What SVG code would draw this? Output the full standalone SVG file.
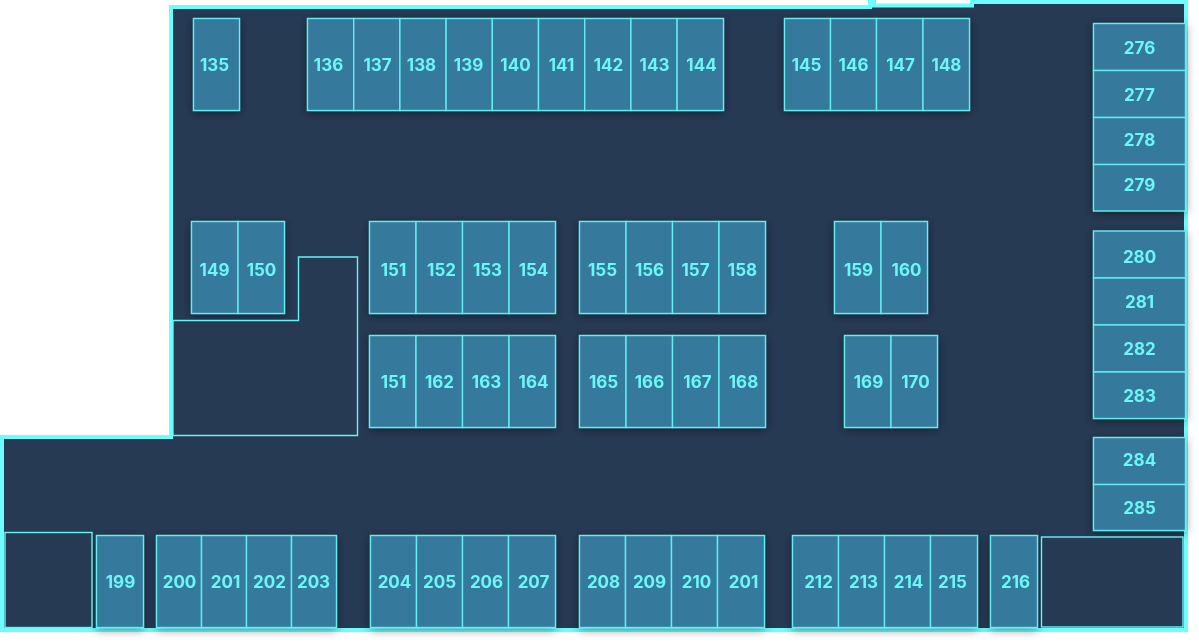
<svg xmlns="http://www.w3.org/2000/svg" width="1199" height="643" viewBox="0 0 1199 643">
<defs><filter id="sh" x="-30%" y="-30%" width="160%" height="160%"><feDropShadow dx="0" dy="2" stdDeviation="5" flood-color="#000" flood-opacity="0.42"/></filter></defs>
<style>
.r{fill:#347a9c;stroke:#60eef0;stroke-width:1.4}
.b{filter:url(#sh)}
.room{fill:#273a54;stroke:#66f2f2;stroke-width:1.4}
text{font-family:Inter,"Liberation Sans",sans-serif;font-size:17px;font-weight:700;fill:#6cf6f6;text-anchor:middle}
</style>
<rect width="1199" height="643" fill="#fff"/>
<path id="floor" d="M171 7H870V2H874V5.500H972V2H1186V630H2V437H171Z" fill="#273a54" stroke="#6efdfd" stroke-width="4"/>
<g id="connectors"/>
<g class="b">
<g id="n135"><rect class="r" x="193.500" y="18.500" width="46" height="92"/><text x="214.500" y="70.500">135</text></g>
</g>
<g class="b">
<g id="n136"><rect class="r" x="307.500" y="18.500" width="46.200" height="92"/><text x="328.500" y="70.500">136</text></g>
<g id="n137"><rect class="r" x="353.700" y="18.500" width="46.200" height="92"/><text x="377.500" y="70.500">137</text></g>
<g id="n138"><rect class="r" x="399.900" y="18.500" width="46.200" height="92"/><text x="421.500" y="70.500">138</text></g>
<g id="n139"><rect class="r" x="446.100" y="18.500" width="46.200" height="92"/><text x="468.500" y="70.500">139</text></g>
<g id="n140"><rect class="r" x="492.300" y="18.500" width="46.200" height="92"/><text x="515.500" y="70.500">140</text></g>
<g id="n141"><rect class="r" x="538.500" y="18.500" width="46.200" height="92"/><text x="561.500" y="70.500">141</text></g>
<g id="n142"><rect class="r" x="584.700" y="18.500" width="46.200" height="92"/><text x="608.500" y="70.500">142</text></g>
<g id="n143"><rect class="r" x="630.900" y="18.500" width="46.200" height="92"/><text x="654.500" y="70.500">143</text></g>
<g id="n144"><rect class="r" x="677.100" y="18.500" width="46.400" height="92"/><text x="701.500" y="70.500">144</text></g>
</g>
<g class="b">
<g id="n145"><rect class="r" x="784.500" y="18.500" width="46" height="92"/><text x="806.500" y="70.500">145</text></g>
<g id="n146"><rect class="r" x="830.500" y="18.500" width="46" height="92"/><text x="853.500" y="70.500">146</text></g>
<g id="n147"><rect class="r" x="876.500" y="18.500" width="46.500" height="92"/><text x="900.500" y="70.500">147</text></g>
<g id="n148"><rect class="r" x="923" y="18.500" width="46.500" height="92"/><text x="946.500" y="70.500">148</text></g>
</g>
<g class="b">
<g id="n276"><rect class="r" x="1093.500" y="23.500" width="92" height="47"/><text x="1139.500" y="53.500">276</text></g>
<g id="n277"><rect class="r" x="1093.500" y="70.500" width="92" height="47"/><text x="1139.500" y="100.500">277</text></g>
<g id="n278"><rect class="r" x="1093.500" y="117.500" width="92" height="47"/><text x="1139.500" y="145.500">278</text></g>
<g id="n279"><rect class="r" x="1093.500" y="164.500" width="92" height="46.500"/><text x="1139.500" y="190.500">279</text></g>
</g>
<g class="b">
<g id="n280"><rect class="r" x="1093.500" y="231" width="92" height="47"/><text x="1139.500" y="262.500">280</text></g>
<g id="n281"><rect class="r" x="1093.500" y="278" width="92" height="47"/><text x="1139.500" y="307.500">281</text></g>
<g id="n282"><rect class="r" x="1093.500" y="325" width="92" height="47"/><text x="1139.500" y="354.500">282</text></g>
<g id="n283"><rect class="r" x="1093.500" y="372" width="92" height="46.500"/><text x="1139.500" y="401.500">283</text></g>
</g>
<g class="b">
<g id="n284"><rect class="r" x="1093.500" y="437.500" width="92" height="47"/><text x="1139.500" y="465.500">284</text></g>
<g id="n285"><rect class="r" x="1093.500" y="484.500" width="92" height="46"/><text x="1139.500" y="513.500">285</text></g>
</g>
<g class="b">
<g id="n149"><rect class="r" x="191.500" y="221.500" width="46.500" height="92"/><text x="214.500" y="275.500">149</text></g>
<g id="n150"><rect class="r" x="238" y="221.500" width="46.500" height="92"/><text x="261.500" y="275.500">150</text></g>
</g>
<g class="b">
<g id="n151a"><rect class="r" x="369.500" y="221.500" width="46.500" height="92"/><text x="393.500" y="275.500">151</text></g>
<g id="n152"><rect class="r" x="416" y="221.500" width="46.500" height="92"/><text x="441.500" y="275.500">152</text></g>
<g id="n153"><rect class="r" x="462.500" y="221.500" width="46.500" height="92"/><text x="487.500" y="275.500">153</text></g>
<g id="n154"><rect class="r" x="509" y="221.500" width="46.500" height="92"/><text x="533.500" y="275.500">154</text></g>
</g>
<g class="b">
<g id="n155"><rect class="r" x="579.500" y="221.500" width="46.500" height="92"/><text x="602.500" y="275.500">155</text></g>
<g id="n156"><rect class="r" x="626" y="221.500" width="46.500" height="92"/><text x="649.500" y="275.500">156</text></g>
<g id="n157"><rect class="r" x="672.500" y="221.500" width="46.500" height="92"/><text x="695.500" y="275.500">157</text></g>
<g id="n158"><rect class="r" x="719" y="221.500" width="46.500" height="92"/><text x="742.500" y="275.500">158</text></g>
</g>
<g class="b">
<g id="n159"><rect class="r" x="834.500" y="221.500" width="46.500" height="92"/><text x="858.500" y="275.500">159</text></g>
<g id="n160"><rect class="r" x="881" y="221.500" width="46.500" height="92"/><text x="906.500" y="275.500">160</text></g>
</g>
<g class="b">
<g id="n151b"><rect class="r" x="369.500" y="335.500" width="46.500" height="92"/><text x="393.500" y="387.500">151</text></g>
<g id="n162"><rect class="r" x="416" y="335.500" width="46.500" height="92"/><text x="439.500" y="387.500">162</text></g>
<g id="n163"><rect class="r" x="462.500" y="335.500" width="46.500" height="92"/><text x="486.500" y="387.500">163</text></g>
<g id="n164"><rect class="r" x="509" y="335.500" width="46.500" height="92"/><text x="533.500" y="387.500">164</text></g>
</g>
<g class="b">
<g id="n165"><rect class="r" x="579.500" y="335.500" width="46.500" height="92"/><text x="603.500" y="387.500">165</text></g>
<g id="n166"><rect class="r" x="626" y="335.500" width="46.500" height="92"/><text x="649.500" y="387.500">166</text></g>
<g id="n167"><rect class="r" x="672.500" y="335.500" width="46.500" height="92"/><text x="697.500" y="387.500">167</text></g>
<g id="n168"><rect class="r" x="719" y="335.500" width="46.500" height="92"/><text x="743.500" y="387.500">168</text></g>
</g>
<g class="b">
<g id="n169"><rect class="r" x="844.500" y="335.500" width="46.500" height="92"/><text x="868.500" y="387.500">169</text></g>
<g id="n170"><rect class="r" x="891" y="335.500" width="46.500" height="92"/><text x="915.500" y="387.500">170</text></g>
</g>
<g class="b">
<g id="n199"><rect class="r" x="96.500" y="535.500" width="47" height="92"/><text x="120.500" y="587.500">199</text></g>
</g>
<g class="b">
<g id="n200"><rect class="r" x="156.500" y="535.500" width="45" height="92"/><text x="179.500" y="587.500">200</text></g>
<g id="n201a"><rect class="r" x="201.500" y="535.500" width="45" height="92"/><text x="225.500" y="587.500">201</text></g>
<g id="n202"><rect class="r" x="246.500" y="535.500" width="45" height="92"/><text x="269.500" y="587.500">202</text></g>
<g id="n203"><rect class="r" x="291.500" y="535.500" width="45" height="92"/><text x="313.500" y="587.500">203</text></g>
</g>
<g class="b">
<g id="n204"><rect class="r" x="370.500" y="535.500" width="46" height="92"/><text x="394.500" y="587.500">204</text></g>
<g id="n205"><rect class="r" x="416.500" y="535.500" width="46" height="92"/><text x="439.500" y="587.500">205</text></g>
<g id="n206"><rect class="r" x="462.500" y="535.500" width="46" height="92"/><text x="486.500" y="587.500">206</text></g>
<g id="n207"><rect class="r" x="508.500" y="535.500" width="47" height="92"/><text x="533.500" y="587.500">207</text></g>
</g>
<g class="b">
<g id="n208"><rect class="r" x="579.500" y="535.500" width="46" height="92"/><text x="603.500" y="587.500">208</text></g>
<g id="n209"><rect class="r" x="625.500" y="535.500" width="46" height="92"/><text x="649.500" y="587.500">209</text></g>
<g id="n210"><rect class="r" x="671.500" y="535.500" width="46" height="92"/><text x="696.500" y="587.500">210</text></g>
<g id="n201b"><rect class="r" x="717.500" y="535.500" width="47" height="92"/><text x="743.500" y="587.500">201</text></g>
</g>
<g class="b">
<g id="n212"><rect class="r" x="792.500" y="535.500" width="46" height="92"/><text x="818.500" y="587.500">212</text></g>
<g id="n213"><rect class="r" x="838.500" y="535.500" width="46" height="92"/><text x="863.500" y="587.500">213</text></g>
<g id="n214"><rect class="r" x="884.500" y="535.500" width="46" height="92"/><text x="908.500" y="587.500">214</text></g>
<g id="n215"><rect class="r" x="930.500" y="535.500" width="47" height="92"/><text x="952.500" y="587.500">215</text></g>
</g>
<g class="b">
<g id="n216"><rect class="r" x="990.500" y="535.500" width="47" height="92"/><text x="1015.500" y="587.500">216</text></g>
</g>
<path id="room-l" class="room" d="M173 320.500H298.500V257H357.500V435.500H173Z"/>
<rect id="room-sw" class="room" x="5" y="532.500" width="87" height="95"/>
<rect id="room-se" class="room" x="1041.500" y="537" width="141.500" height="90"/>
</svg>
